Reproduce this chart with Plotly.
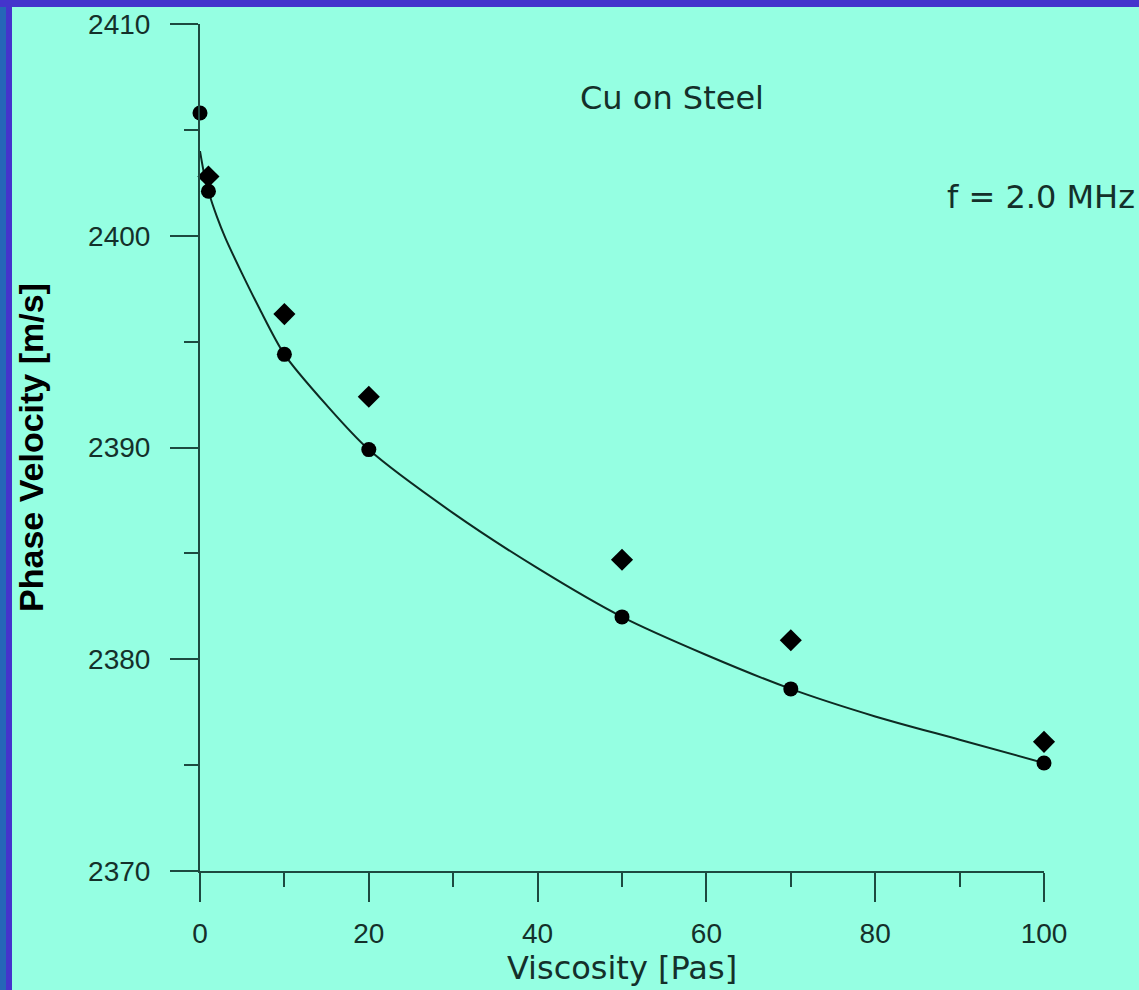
import plotly.graph_objects as go

# Data
circle_x = [0, 1, 10, 20, 50, 70, 100]
circle_y = [2405.8, 2402.1, 2394.4, 2389.9, 2382.0, 2378.6, 2375.1]

diamond_x = [1, 10, 20, 50, 70, 100]
diamond_y = [2402.8, 2396.3, 2392.4, 2384.7, 2380.9, 2376.1]

fit_x = [0, 0.5, 1, 2, 3, 5, 7, 10, 15, 20, 30, 40, 50, 60, 70, 80, 90, 100]
fit_y = [2404.0, 2402.9, 2402.1, 2400.9, 2399.9, 2398.2, 2396.6, 2394.4, 2392.0, 2389.9,
         2386.9, 2384.3, 2382.0, 2380.2, 2378.6, 2377.3, 2376.2, 2375.1]

x_ticks = [0, 20, 40, 60, 80, 100]
y_ticks = [2370, 2380, 2390, 2400, 2410]

BG = "#95FFE2"
INK = "#14302a"
AX = "#1d4a40"
FONT = "Liberation Sans, Arial, sans-serif"
WIDE = "DejaVu Sans, Verdana, sans-serif"

W, H = 1139, 990
L, R, T, B = 200, 95, 24, 119

fig = go.Figure()
fig.add_trace(go.Scatter(x=fit_x, y=fit_y, mode="lines",
                         line=dict(color="#0e2a22", width=2, shape="spline", smoothing=0.8),
                         cliponaxis=False, showlegend=False, hoverinfo="skip"))
fig.add_trace(go.Scatter(x=diamond_x, y=diamond_y, mode="markers",
                         marker=dict(symbol="diamond", size=17, color="black"),
                         cliponaxis=False, showlegend=False))
fig.add_trace(go.Scatter(x=circle_x, y=circle_y, mode="markers",
                         marker=dict(symbol="circle", size=15, color="black"),
                         cliponaxis=False, showlegend=False))

pw = W - L - R
ph = H - T - B
def px(p):
    return (p - L) / pw
def py(p):
    return (H - B - p) / ph

shapes = [
    dict(type="rect", xref="paper", yref="paper", x0=px(0), x1=px(6), y0=py(H), y1=py(0),
         fillcolor="#2566b8", line=dict(width=0), layer="above"),
    dict(type="rect", xref="paper", yref="paper", x0=px(6), x1=px(12), y0=py(H), y1=py(7),
         fillcolor="#4434cc", line=dict(width=0), layer="above"),
    dict(type="rect", xref="paper", yref="paper", x0=px(0), x1=px(W), y0=py(7), y1=py(0),
         fillcolor="#4434cc", line=dict(width=0), layer="above"),
]

fig.update_layout(
    width=W, height=H,
    margin=dict(l=L, r=R, t=T, b=B, autoexpand=False),
    paper_bgcolor=BG, plot_bgcolor=BG,
    font=dict(family=FONT, color=INK, size=28),
    shapes=shapes,
    annotations=[
        dict(text="Cu on Steel", x=px(672), y=py(98), xref="paper", yref="paper",
             xanchor="center", yanchor="middle", showarrow=False,
             font=dict(size=32, color=INK, family=WIDE)),
        dict(text="f = 2.0 MHz", x=px(1137), y=py(197), xref="paper", yref="paper",
             xanchor="right", yanchor="middle", showarrow=False,
             font=dict(size=32, color=INK, family=WIDE)),
    ],
)

fig.update_xaxes(range=[0, 100], tickvals=x_ticks, ticktext=[str(v) for v in x_ticks],
                 showgrid=False, zeroline=False, showline=True, linecolor=AX, linewidth=2,
                 ticks="outside", ticklen=29, tickwidth=2, tickcolor=AX,
                 minor=dict(ticks="outside", ticklen=14, tickwidth=2, tickcolor=AX, dtick=10, showgrid=False),
                 ticklabelstandoff=7,
                 tickfont=dict(size=28, color=INK, family=FONT),
                 title=dict(text="Viscosity [Pas]", font=dict(size=32, color=INK, family=WIDE), standoff=3),
                 automargin=False)
fig.update_yaxes(range=[2370, 2410], tickvals=y_ticks, ticktext=[str(v) for v in y_ticks],
                 showgrid=False, zeroline=False, showline=True, linecolor=AX, linewidth=2,
                 ticks="outside", ticklen=28, tickwidth=2, tickcolor=AX,
                 minor=dict(ticks="outside", ticklen=14, tickwidth=2, tickcolor=AX, dtick=5, showgrid=False),
                 ticklabelstandoff=14,
                 tickfont=dict(size=28, color=INK, family=FONT),
                 title=dict(text="<b>Phase Velocity [m/s]</b>", font=dict(size=34, color="#000000", family=FONT), standoff=34),
                 automargin=False)

fig.write_html("out.html",
               config={"displayModeBar": False},
               post_script="document.documentElement.style.margin='0';document.body.style.margin='0';"
                           "document.body.style.overflow='hidden';")
